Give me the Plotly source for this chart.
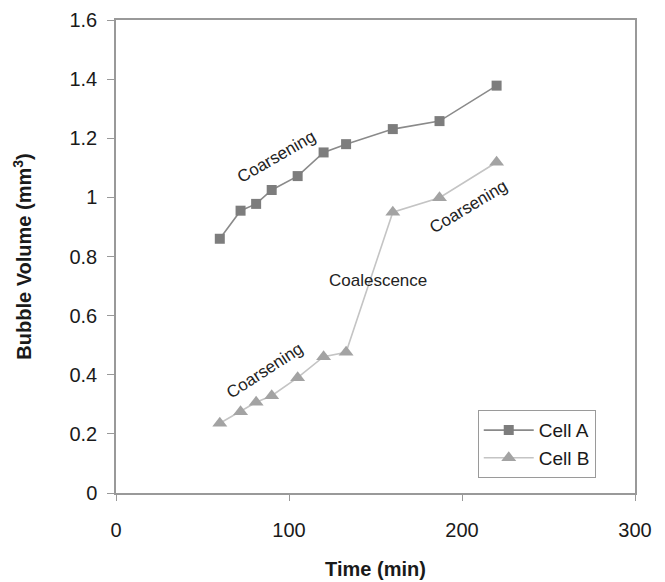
import plotly.graph_objects as go

time_min = [60, 72, 81, 90, 105, 120, 133, 160, 187, 220]
cell_a = [0.86, 0.955, 0.978, 1.025, 1.072, 1.152, 1.18, 1.231, 1.258, 1.378]
cell_b = [0.236, 0.275, 0.307, 0.329, 0.39, 0.461, 0.476, 0.95, 0.999, 1.119]

x_ticks = [0, 100, 200, 300]
y_ticks = [0, 0.2, 0.4, 0.6, 0.8, 1.0, 1.2, 1.4, 1.6]
y_labels = ["0", "0.2", "0.4", "0.6", "0.8", "1", "1.2", "1.4", "1.6"]

notes_text = ["Coarsening", "Coarsening", "Coarsening", "Coalescence"]
notes_x = [93, 204, 86, 151.5]
notes_y = [1.138, 0.969, 0.416, 0.718]
notes_angle = [-30, -31, -33, 0]

FONT = "Liberation Sans, Arial, sans-serif"

fig = go.Figure()
fig.add_trace(go.Scatter(
    x=time_min, y=cell_a, name="Cell A", mode="lines+markers",
    line=dict(color="#8a8a8a", width=1.6),
    marker=dict(symbol="square", size=10, color="#7d7d7d"),
))
fig.add_trace(go.Scatter(
    x=time_min, y=cell_b, name="Cell B", mode="lines+markers",
    line=dict(color="#c4c4c4", width=1.6),
    marker=dict(symbol="triangle-up", size=13, color="#a3a3a3"),
))

for t, xx, yy, ang in zip(notes_text, notes_x, notes_y, notes_angle):
    fig.add_annotation(x=xx, y=yy, text=t, showarrow=False, textangle=ang,
                       font=dict(family=FONT, size=17, color="#222"))

fig.update_layout(
    width=665, height=582,
    margin=dict(l=116, r=30, t=20, b=89),
    paper_bgcolor="white", plot_bgcolor="white",
    font=dict(family=FONT, color="#1a1a1a"),
    showlegend=True,
    legend=dict(x=0.697, y=0.175, xanchor="left", yanchor="top",
                bordercolor="#9a9a9a", borderwidth=1, bgcolor="white",
                font=dict(size=19, color="#1a1a1a"),
                itemwidth=50, tracegroupgap=2),
)
fig.update_xaxes(
    range=[0, 300], tickvals=x_ticks, ticktext=[str(v) for v in x_ticks],
    showgrid=False, zeroline=False, showline=True, linecolor="#999999", linewidth=1.5,
    mirror=True, ticks="outside", ticklen=6, tickcolor="#999999",
    ticklabelstandoff=12, automargin=False,
    tickfont=dict(size=20, color="#1a1a1a"),
    title=dict(text="<b>Time (min)</b>", font=dict(size=20, color="#1a1a1a"), standoff=22),
)
fig.update_yaxes(
    range=[0, 1.6], tickvals=y_ticks, ticktext=y_labels,
    showgrid=False, zeroline=False, showline=True, linecolor="#999999", linewidth=1.5,
    mirror=True, ticks="outside", ticklen=7, tickcolor="#999999",
    ticklabelstandoff=6, automargin=False,
    tickfont=dict(size=20, color="#1a1a1a"),
    title=dict(text="<b>Bubble Volume (mm<sup>3</sup>)</b>", font=dict(size=20, color="#1a1a1a"), standoff=32),
)

fig.write_html("out.html")
